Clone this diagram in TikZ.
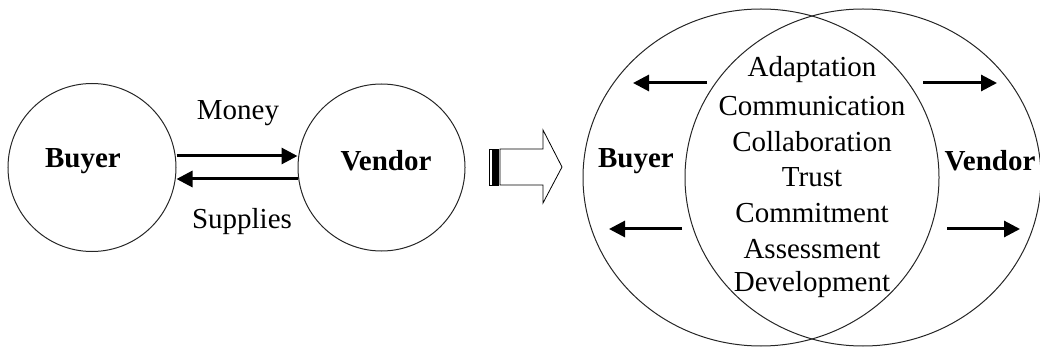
\documentclass[tikz,border=0pt]{standalone}
\usepackage{fontspec}
\setmainfont{Liberation Serif}
\usetikzlibrary{arrows.meta,shapes.geometric}
\tikzset{
  party/.style={draw=black!85, line width=1pt, inner sep=0pt},
  flow/.style={line width=3pt, -{Triangle[length=16pt,width=16pt]}},
  label/.style={font=\fontsize{29}{35}\selectfont, inner sep=0pt},
  bname/.style={font=\fontsize{29}{35}\selectfont\bfseries, inner sep=0pt},
}
\begin{document}
\begin{tikzpicture}[x=1pt,y=-1pt]
\useasboundingbox (0,0) rectangle (1040,347);

% --- simple exchange: two separate parties ---
\node[party, circle, minimum size=168pt] (buyerA) at (92,167.5) {};
\node[party, circle, minimum size=167pt] (vendorA) at (381.5,167.5) {};
\node[bname] (buyerAtxt) at (83,161) {Buyer};
\node[bname] (vendorAtxt) at (386,161) {Vendor};
\draw[flow] (buyerA.east |- 0,156) -- (vendorA.west |- 0,156);
\draw[flow] (vendorA.west |- 0,179) -- (buyerA.east |- 0,179);
\node[label] (money) at (238,113) {Money};
\node[label] (supplies) at (242,222) {Supplies};

% --- transition arrow ---
\draw[line width=0.8pt] (489,149) rectangle (498,185);
\fill (492,149) rectangle (498,185);
\draw[line width=0.8pt] (500,149) -- (543,149) -- (543,130) -- (562,167)
  -- (543,203) -- (543,185) -- (500,185) -- cycle;

% --- relationship: overlapping parties ---
\node[party, ellipse, minimum width=356pt, minimum height=337pt] (buyerB) at (761,177.5) {};
\node[party, ellipse, minimum width=356pt, minimum height=337pt] (vendorB) at (863,177.5) {};
\node[bname] (buyerBtxt) at (636,161) {Buyer};
\node[bname] (vendorBtxt) at (990,161) {Vendor};

\coordinate (ulT) at (707,83);  \coordinate (ulH) at (633,83);
\coordinate (llT) at (682,229); \coordinate (llH) at (609,229);
\coordinate (urT) at (923,83);  \coordinate (urH) at (997,83);
\coordinate (lrT) at (947,229); \coordinate (lrH) at (1020,229);
\draw[flow] (ulT) -- (ulH);
\draw[flow] (llT) -- (llH);
\draw[flow] (urT) -- (urH);
\draw[flow] (lrT) -- (lrH);

\foreach \w [count=\i from 0] in {Adaptation,Communication,Collaboration,Trust,Commitment,Assessment,Development}
  \node[label] (core\i) at (812,{70+35.8*\i}) {\w};
\end{tikzpicture}
\end{document}
